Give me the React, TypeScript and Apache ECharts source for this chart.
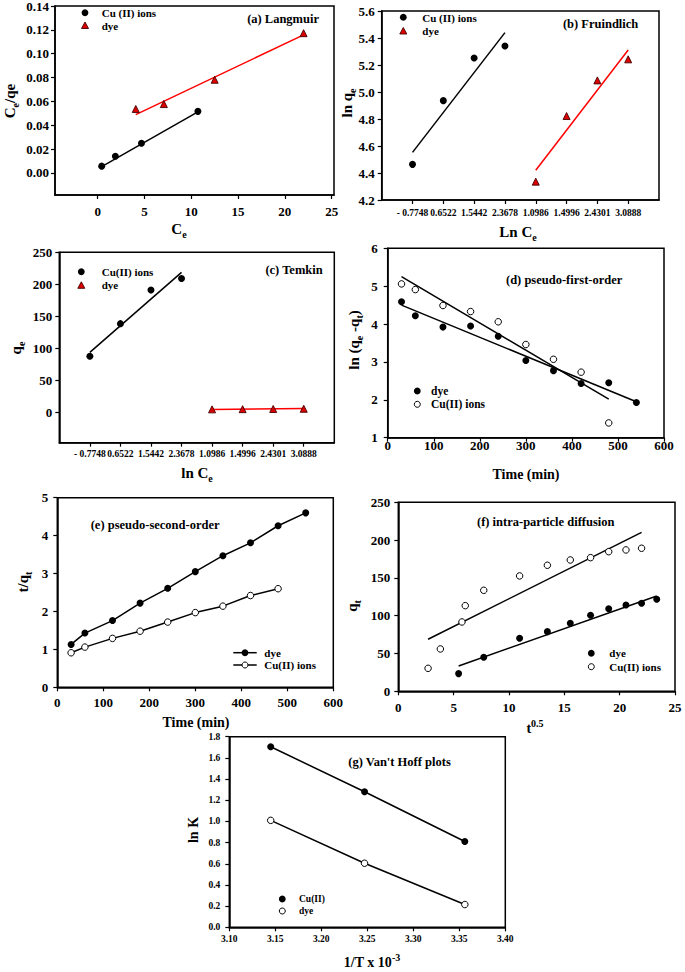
import React, { useEffect, useRef } from 'react';
import * as echarts from 'echarts';

const FONT = '"Liberation Serif","Times New Roman",Times,serif';

// ---------- (a) Langmuir ----------
const aCuX = [0.43, 1.89, 4.68, 10.71];
const aCuY = [0.0056, 0.0139, 0.0248, 0.0516];
const aCuFitX = [0.43, 10.71];
const aCuFitY = [0.0052, 0.0511];
const aDyeX = [4.07, 7.07, 12.5, 22.0];
const aDyeY = [0.0536, 0.0577, 0.0781, 0.1172];
const aDyeFitX = [4.07, 22.0];
const aDyeFitY = [0.0488, 0.1158];
const aXTicks = [0, 5, 10, 15, 20, 25];
const aYTicks = [0, 0.02, 0.04, 0.06, 0.08, 0.1, 0.12, 0.14];

// ---------- (b) Freundlich ----------
const lnCeLabels = ['- 0.7748', '0.6522', '1.5442', '2.3678', '1.0986', '1.4996', '2.4301', '3.0888'];
const catIdx = [1, 2, 3, 4, 5, 6, 7, 8];
const cuIdx = [1, 2, 3, 4];
const dyeIdx = [5, 6, 7, 8];
const bCuY = [4.464, 4.936, 5.252, 5.341];
const bCuFitX = [1, 4];
const bCuFitY = [4.553, 5.44];
const bDyeY = [4.336, 4.822, 5.086, 5.242];
const bDyeFitX = [5, 8];
const bDyeFitY = [4.42, 5.311];
const bYTicks = [4.2, 4.4, 4.6, 4.8, 5.0, 5.2, 5.4, 5.6];

// ---------- (c) Temkin ----------
const cCuY = [87.5, 138.5, 191, 209];
const cCuFitX = [1, 4];
const cCuFitY = [93.7, 218.7];
const cDyeY = [4.6, 4.9, 5.2, 5.5];
const cDyeFitX = [5, 8];
const cDyeFitY = [4.3, 5.8];
const cYTicks = [0, 50, 100, 150, 200, 250];

// ---------- (d) pseudo-first-order ----------
const timeDye = [30, 60, 120, 180, 240, 300, 360, 420, 480, 540];
const timeCu = [30, 60, 120, 180, 240, 300, 360, 420, 480];
const dDyeY = [4.59, 4.22, 3.92, 3.95, 3.68, 3.04, 2.77, 2.43, 2.45, 1.93];
const dCuY = [5.06, 4.91, 4.49, 4.33, 4.06, 3.46, 3.07, 2.73, 1.39];
const dDyeFitX = [30, 540];
const dDyeFitY = [4.5, 1.95];
const dCuFitX = [30, 480];
const dCuFitY = [5.25, 2.02];
const timeTicks = [0, 100, 200, 300, 400, 500, 600];
const dYTicks = [1, 2, 3, 4, 5, 6];

// ---------- (e) pseudo-second-order ----------
const eDyeY = [1.13, 1.43, 1.76, 2.22, 2.61, 3.05, 3.47, 3.81, 4.26, 4.6];
const eCuY = [0.91, 1.06, 1.29, 1.48, 1.72, 1.97, 2.14, 2.42, 2.6];
const eYTicks = [0, 1, 2, 3, 4, 5];

// ---------- (f) intra-particle diffusion ----------
const fDyeX = [5.45, 7.72, 10.96, 13.47, 15.54, 17.37, 19.01, 20.57, 21.98, 23.35];
const fDyeY = [23.4, 45.0, 70.1, 78.9, 89.9, 100.5, 109.3, 114.2, 116.4, 121.7];
const fCuX = [2.69, 3.8, 5.75, 6.05, 7.72, 10.96, 13.47, 15.54, 17.37, 19.01, 20.57, 21.98];
const fCuY = [30.4, 56.0, 91.7, 113.3, 133.6, 152.6, 166.7, 173.7, 176.8, 184.7, 187.0, 189.2];
const fDyeFitX = [5.45, 23.35];
const fDyeFitY = [33.5, 126.1];
const fCuFitX = [2.69, 21.98];
const fCuFitY = [68.8, 210.3];
const fXTicks = [0, 5, 10, 15, 20, 25];
const fYTicks = [0, 50, 100, 150, 200, 250];

// ---------- (g) Van't Hoff ----------
const gInvT = [3.145, 3.247, 3.356];
const gCuY = [1.705, 1.28, 0.81];
const gDyeY = [1.01, 0.605, 0.215];
const gXTicks = [3.1, 3.15, 3.2, 3.25, 3.3, 3.35, 3.4];
const gYTicks = [0, 0.2, 0.4, 0.6, 0.8, 1.0, 1.2, 1.4, 1.6, 1.8];

const zip = (xs: number[], ys: number[]) => xs.map((x, i) => [x, ys[i]]);

function axis(gi: number, min: number, max: number, ticks: number[], fontSize: number, margin: number, fmt: (v: number) => string) {
  return {
    type: 'value',
    gridIndex: gi,
    min,
    max,
    axisLine: { show: true, onZero: false, lineStyle: { color: '#000', width: 1.5 } },
    axisTick: { show: true, inside: false, length: 4, customValues: ticks, lineStyle: { color: '#000', width: 1.2 } },
    axisLabel: {
      customValues: ticks,
      margin,
      fontSize,
      fontWeight: 'bold',
      fontFamily: FONT,
      color: '#000',
      formatter: fmt,
    },
    splitLine: { show: false },
  };
}

const catFmt = (v: number) => lnCeLabels[Math.round(v) - 1] ?? '';
const fx = (d: number) => (v: number) => v.toFixed(d);

function pts(gi: number, data: number[][], kind: 'filled' | 'open' | 'tri') {
  const base: any = {
    type: 'scatter',
    xAxisIndex: gi,
    yAxisIndex: gi,
    data,
    z: 5,
  };
  if (kind === 'filled') {
    base.symbol = 'circle';
    base.symbolSize = 7;
    base.itemStyle = { color: '#000', opacity: 1 };
  } else if (kind === 'open') {
    base.symbol = 'circle';
    base.symbolSize = 6.5;
    base.itemStyle = { color: '#fff', borderColor: '#000', borderWidth: 1, opacity: 1 };
  } else {
    base.symbol = 'triangle';
    base.symbolSize = 7;
    base.itemStyle = { color: '#dd0000', borderColor: '#400', borderWidth: 0.9, opacity: 1 };
  }
  return base;
}

function fit(gi: number, data: number[][], color = '#000', withSymbol?: 'filled' | 'open') {
  const s: any = {
    type: 'line',
    xAxisIndex: gi,
    yAxisIndex: gi,
    data,
    lineStyle: { color, width: 1.5 },
    showSymbol: !!withSymbol,
    symbol: withSymbol ? 'circle' : 'none',
    z: 3,
  };
  if (withSymbol === 'filled') {
    s.symbolSize = 7;
    s.itemStyle = { color: '#000', opacity: 1 };
    s.z = 5;
  } else if (withSymbol === 'open') {
    s.symbolSize = 6.5;
    s.itemStyle = { color: '#fff', borderColor: '#000', borderWidth: 1, opacity: 1 };
    s.z = 5;
  }
  return s;
}

function txt(x: number, y: number, text: string, size: number, align = 'left') {
  return {
    type: 'text',
    x,
    y,
    silent: true,
    style: {
      text,
      fontSize: size,
      fontFamily: FONT,
      fontWeight: 'bold',
      fill: '#000',
      align,
      textAlign: align,
      verticalAlign: 'middle',
      textVerticalAlign: 'middle',
    },
  };
}

function rich(x: number, y: number, text: string, size: number, rotate = false) {
  const sub = Math.round(size * 0.68);
  return {
    type: 'text',
    x,
    y,
    rotation: rotate ? Math.PI / 2 : 0,
    silent: true,
    style: {
      text,
      align: 'center',
      textAlign: 'center',
      verticalAlign: 'middle',
      textVerticalAlign: 'middle',
      fill: '#000',
      rich: {
        m: { fontSize: size, fontFamily: FONT, fontWeight: 'bold', fill: '#000', color: '#000', lineHeight: size + 5, verticalAlign: 'middle' },
        s: { fontSize: sub, fontFamily: FONT, fontWeight: 'bold', fill: '#000', color: '#000', lineHeight: sub, verticalAlign: 'bottom' },
        p: { fontSize: sub, fontFamily: FONT, fontWeight: 'bold', fill: '#000', color: '#000', lineHeight: sub, verticalAlign: 'top' },
      },
    },
  };
}

function dot(cx: number, cy: number, open = false) {
  return {
    type: 'circle',
    shape: { cx, cy, r: open ? 3 : 3.4 },
    silent: true,
    style: open ? { fill: '#fff', stroke: '#000', lineWidth: 1 } : { fill: '#000' },
  };
}

function tri(cx: number, cy: number) {
  return {
    type: 'polygon',
    shape: { points: [[cx, cy - 3.5], [cx + 3.5, cy + 3], [cx - 3.5, cy + 3]] },
    silent: true,
    style: { fill: '#dd0000', stroke: '#400', lineWidth: 0.9 },
  };
}

function seg(x1: number, y1: number, x2: number, y2: number) {
  return { type: 'line', shape: { x1, y1, x2, y2 }, silent: true, style: { stroke: '#000', lineWidth: 1.5 } };
}

function buildOption() {
  const grids = [
    { left: 55, top: 6, width: 279, height: 189 },
    { left: 381.7, top: 11, width: 277.3, height: 189 },
    { left: 59.3, top: 252.3, width: 275, height: 190.4 },
    { left: 387.7, top: 248.3, width: 276.3, height: 189.4 },
    { left: 57.3, top: 497.7, width: 276, height: 189.6 },
    { left: 398.3, top: 502.3, width: 276.7, height: 189 },
    { left: 229.3, top: 736.7, width: 276, height: 190.6 },
  ].map((g) => ({
    ...g,
    show: true,
    borderColor: '#000',
    borderWidth: 1.5,
    backgroundColor: 'transparent',
    containLabel: false,
    outerBoundsMode: 'none',
  }));

  const xAxis = [
    axis(0, -4.56, 25.25, aXTicks, 13, 10, String),
    axis(1, 0, 9, catIdx, 9.5, 8, catFmt),
    axis(2, 0, 9, catIdx, 9.5, 6.5, catFmt),
    axis(3, 0, 600, timeTicks, 13, 1.5, String),
    axis(4, 0, 600, timeTicks, 13, 8.5, String),
    axis(5, 0, 25, fXTicks, 13, 10, String),
    axis(6, 3.1, 3.4, gXTicks, 9.5, 7, fx(2)),
  ];
  const yAxis = [
    axis(0, -0.0186, 0.14, aYTicks, 13, 6, fx(2)),
    axis(1, 4.2, 5.6, bYTicks, 13, 7, fx(1)),
    axis(2, -47.5, 250, cYTicks, 13, 7, String),
    axis(3, 1, 6, dYTicks, 13, 10, String),
    axis(4, 0, 5, eYTicks, 13, 9, String),
    axis(5, 0, 250, fYTicks, 13, 8, String),
    axis(6, 0, 1.8, gYTicks, 9.5, 9, fx(1)),
  ];

  const series = [
    // a
    fit(0, zip(aCuFitX, aCuFitY)),
    fit(0, zip(aDyeFitX, aDyeFitY), '#ff0000'),
    pts(0, zip(aCuX, aCuY), 'filled'),
    pts(0, zip(aDyeX, aDyeY), 'tri'),
    // b
    fit(1, zip(bCuFitX, bCuFitY)),
    fit(1, zip(bDyeFitX, bDyeFitY), '#ff0000'),
    pts(1, zip(cuIdx, bCuY), 'filled'),
    pts(1, zip(dyeIdx, bDyeY), 'tri'),
    // c
    fit(2, zip(cCuFitX, cCuFitY)),
    fit(2, zip(cDyeFitX, cDyeFitY), '#ff0000'),
    pts(2, zip(cuIdx, cCuY), 'filled'),
    pts(2, zip(dyeIdx, cDyeY), 'tri'),
    // d
    fit(3, zip(dCuFitX, dCuFitY)),
    fit(3, zip(dDyeFitX, dDyeFitY)),
    pts(3, zip(timeDye, dDyeY), 'filled'),
    pts(3, zip(timeCu, dCuY), 'open'),
    // e
    fit(4, zip(timeDye, eDyeY), '#000', 'filled'),
    fit(4, zip(timeCu, eCuY), '#000', 'open'),
    // f
    fit(5, zip(fCuFitX, fCuFitY)),
    fit(5, zip(fDyeFitX, fDyeFitY)),
    pts(5, zip(fDyeX, fDyeY), 'filled'),
    pts(5, zip(fCuX, fCuY), 'open'),
    // g
    fit(6, zip(gInvT, gCuY), '#000', 'filled'),
    fit(6, zip(gInvT, gDyeY), '#000', 'open'),
  ];

  const graphic = [
    // (a)
    txt(319, 19, '(a) Langmuir', 12.5, 'right'),
    dot(85, 12.7), txt(101.7, 13, 'Cu (II) ions', 11),
    tri(85, 25.5), txt(101.7, 26, 'dye', 11),
    rich(179, 229, '{m|C}{s|e}', 15),
    rich(10, 101, '{m|C}{s|e}{m|/qe}', 15, true),
    // (b)
    txt(638.3, 24.3, '(b) Fruindlich', 12.5, 'right'),
    dot(403.3, 17.3), txt(422.3, 17.5, 'Cu (II) ions', 11),
    tri(403.3, 31), txt(422.3, 31, 'dye', 11),
    rich(518, 232, '{m|Ln C}{s|e}', 15),
    rich(347, 103, '{m|ln q}{s|e}', 15, true),
    // (c)
    txt(322.7, 270, '(c) Temkin', 12.5, 'right'),
    dot(81.3, 271.7), txt(101.7, 271.7, 'Cu(II) ions', 11),
    tri(81.3, 285.3), txt(101.7, 285, 'dye', 11),
    rich(197, 473, '{m|ln C}{s|e}', 15),
    rich(16, 348, '{m|q}{s|e}', 15, true),
    // (d)
    txt(506, 280, '(d) pseudo-first-order', 12.5),
    dot(417.3, 391), txt(431, 391, 'dye', 11.5),
    dot(417.3, 404.3, true), txt(431, 404.3, 'Cu(II) ions', 11.5),
    rich(526, 474, '{m|Time (min)}', 14),
    rich(354, 340, '{m|ln (q}{s|e}{m| -q}{s|t}{m|)}', 15, true),
    // (e)
    txt(90.7, 525, '(e) pseudo-second-order', 12.5),
    seg(233.3, 652.7, 256.7, 652.7), dot(245, 652.7), txt(264.3, 652.7, 'dye', 11),
    seg(233.3, 665, 256.7, 665), dot(245, 665, true), txt(264.3, 665, 'Cu(II) ions', 11),
    rich(196, 722, '{m|Time (min)}', 14),
    rich(23, 582, '{m|t/q}{s|t}', 15, true),
    // (f)
    txt(477, 521.7, '(f) intra-particle diffusion', 12.5),
    dot(591.3, 653.3), txt(609.3, 653.3, 'dye', 11),
    dot(591.3, 666.7, true), txt(609.3, 666.7, 'Cu(II) ions', 11),
    rich(535, 728, '{m|t}{p|0.5}', 14),
    rich(352, 606, '{m|q}{s|t}', 15, true),
    // (g)
    txt(348.3, 761.7, "(g) Van't Hoff plots", 12.5),
    dot(282.3, 899), txt(299, 899, 'Cu(II)', 9.5),
    dot(282.3, 911, true), txt(299, 911, 'dye', 9.5),
    rich(372, 962, '{m|1/T x 10}{p|-3}', 14),
    rich(193, 830, '{m|ln K}', 14, true),
  ];

  return {
    animation: false,
    backgroundColor: '#fff',
    grid: grids,
    xAxis,
    yAxis,
    series,
    graphic,
  };
}

export default function App() {
  const ref = useRef<HTMLDivElement>(null);
  useEffect(() => {
    document.body.style.margin = '0';
    const chart = echarts.init(ref.current as HTMLDivElement, null, { renderer: 'svg' });
    chart.setOption(buildOption() as any);
    return () => chart.dispose();
  }, []);
  return <div ref={ref} style={{ width: 685, height: 972 }} />;
}
